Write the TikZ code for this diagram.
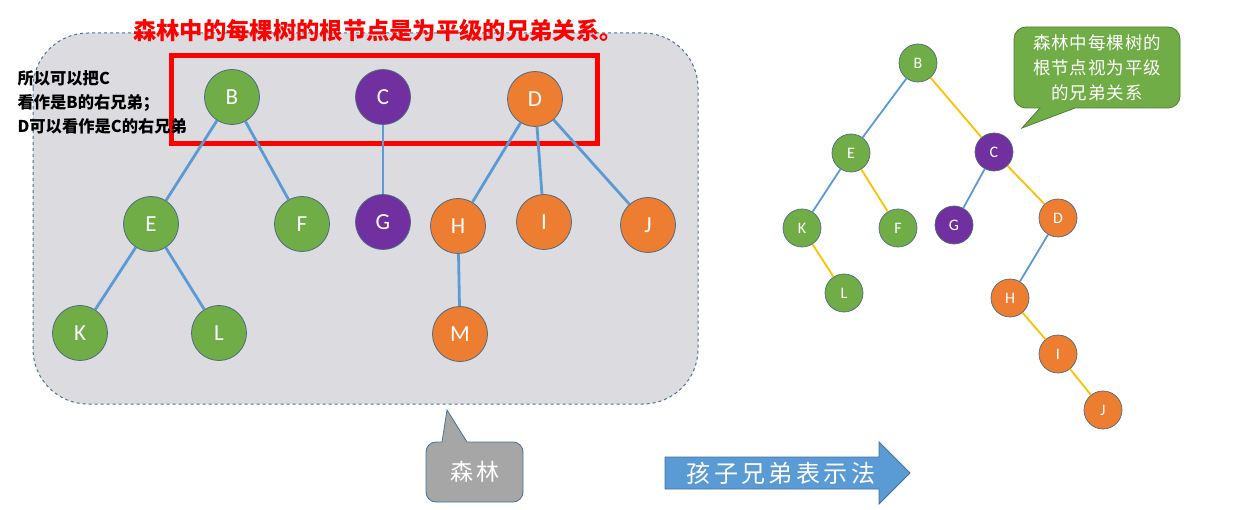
\documentclass[tikz,border=0pt]{standalone}
\usepackage{fontspec}
\setmainfont{Carlito}
\newfontfamily\cjk{Noto Sans CJK SC}
\definecolor{cgreen}{HTML}{70AD47}
\definecolor{cpurple}{HTML}{7030A0}
\definecolor{corange}{HTML}{ED7D31}
\definecolor{cblue}{HTML}{5B9BD5}
\definecolor{cyellow}{HTML}{FFC000}
\definecolor{nodeb}{HTML}{4F6A80}
\definecolor{boxb}{HTML}{4A7393}
\definecolor{boxfill}{HTML}{DCDBE0}
\definecolor{calloutgray}{HTML}{A6A6A6}
\definecolor{arrowb}{HTML}{41719C}
\definecolor{greenb}{HTML}{507E32}
\begin{document}
\begin{tikzpicture}[x=1pt,y=-1pt,
  tn/.style={circle,draw=nodeb,line width=0.8pt,minimum size=55pt,inner sep=0pt,text=white,font=\fontsize{23}{23}\selectfont},
  rn/.style={circle,draw=nodeb,line width=0.7pt,minimum size=38pt,inner sep=0pt,text=white,font=\fontsize{16}{16}\selectfont},
  gn/.style={fill=cgreen}, pp/.style={fill=cpurple}, og/.style={fill=corange},
  ledge/.style={draw=cblue,line width=2.8pt},
  bedge/.style={draw=cblue,line width=1.8pt},
  yedge/.style={draw=cyellow,line width=1.8pt}]
\useasboundingbox (0,0) rectangle (1250,510);
% forest box
\draw[boxb,dashed,line width=1pt,fill=boxfill,rounded corners=55pt] (33,33) rectangle (698,404);
\node[text=red,font=\cjk\bfseries\fontsize{23.3}{23.3}\selectfont] (title) at (378,31) {森林中的每棵树的根节点是为平级的兄弟关系。};
\draw[red,line width=5pt] (171,56) rectangle (597,144);
\node[anchor=west,align=left,font=\cjk\bfseries\fontsize{16.3}{24}\selectfont] (note) at (14,102) {所以可以把C\\看作是B的右兄弟；\\D可以看作是C的右兄弟};
% left forest
\node[tn,gn] (B) at (232,97) {B};
\node[tn,pp] (C) at (383,97) {C};
\node[tn,og] (D) at (535,99) {D};
\node[tn,gn] (E) at (151,224) {E};
\node[tn,gn] (F) at (302,224) {F};
\node[tn,pp] (G) at (383,222) {G};
\node[tn,og] (H) at (458,226) {H};
\node[tn,og] (I) at (544,222) {I};
\node[tn,og] (J) at (648,225) {J};
\node[tn,gn] (K) at (80,333) {K};
\node[tn,gn] (L) at (219,333) {L};
\node[tn,og] (M) at (460,334) {M};
\foreach \a/\b in {B/E,B/F,C/G,D/H,D/I,D/J,E/K,E/L,H/M}
  \draw[ledge] (\a) -- (\b);
% forest callout
\draw[boxb,line width=0.8pt,fill=calloutgray] (447,410) -- (467,442) [rounded corners=10pt] -- (523,442) -- (523,502) -- (426,502) -- (426,442) [sharp corners] -- (442,442) -- cycle;
\node[text=white,font=\cjk\fontsize{23}{23}\selectfont\addfontfeature{LetterSpace=10}] (forestlbl) at (475,472) {森林};
% arrow
\draw[arrowb,line width=0.8pt,fill=cblue] (665,457) -- (879,457) -- (879,442) -- (910,473) -- (879,504) -- (879,489) -- (665,489) -- cycle;
\node[text=white,font=\cjk\fontsize{24}{24}\selectfont\addfontfeature{LetterSpace=14}] (arrowlbl) at (781,473) {孩子兄弟表示法};
% right binary tree
\node[rn,gn] (rB) at (918,63) {B};
\node[rn,gn] (rE) at (851,153) {E};
\node[rn,pp] (rC) at (994,152) {C};
\node[rn,gn] (rK) at (802,228) {K};
\node[rn,gn] (rF) at (898,228) {F};
\node[rn,pp] (rG) at (954,225) {G};
\node[rn,og] (rD) at (1058,218) {D};
\node[rn,gn] (rL) at (844,293) {L};
\node[rn,og] (rH) at (1010,298) {H};
\node[rn,og] (rI) at (1058,354) {I};
\node[rn,og] (rJ) at (1103,410) {J};
\foreach \a/\b in {rB/rE,rE/rK,rC/rG,rD/rH}
  \draw[bedge] (\a) -- (\b);
\foreach \a/\b in {rB/rC,rE/rF,rK/rL,rC/rD,rH/rI,rI/rJ}
  \draw[yedge] (\a) -- (\b);
% green callout
\draw[greenb,line width=0.8pt,fill=cgreen] (1022,128) -- (1040,108) [rounded corners=12pt] -- (1014,108) -- (1014,27) -- (1180,27) -- (1180,108) [sharp corners] -- (1075,108) -- cycle;
\node[text=white,align=center,font=\cjk\fontsize{17.5}{25}\selectfont\addfontfeature{LetterSpace=5}] (greenlbl) at (1097,68) {森林中每棵树的\\根节点视为平级\\的兄弟关系};
\end{tikzpicture}
\end{document}
